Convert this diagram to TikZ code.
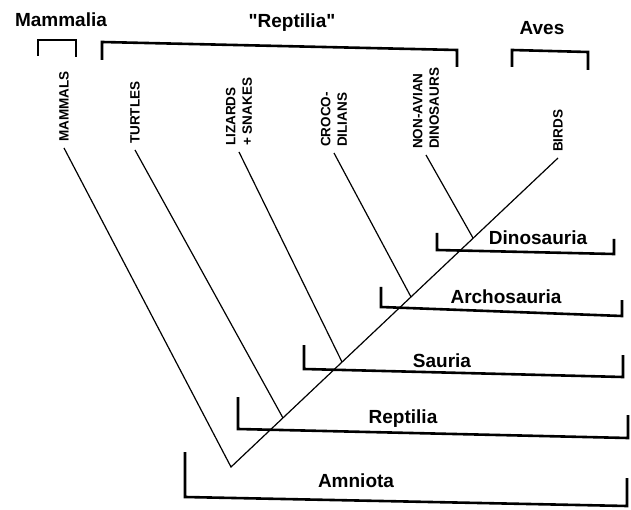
\documentclass[tikz,border=0pt]{standalone}
\usepackage{fontspec}
\setmainfont{Liberation Sans}
\begin{document}
\begin{tikzpicture}[x=1pt, y=-1pt,
    branch/.style={line width=1.2pt},
    bracket/.style={line width=2.6pt},
    clade/.style={font=\fontsize{19}{22}\selectfont\bfseries, anchor=base, inner sep=0pt},
    leaf/.style={font=\fontsize{13.5}{16.5}\selectfont\bfseries, rotate=90, anchor=west, align=left, inner xsep=6pt, inner ysep=0pt}]
    \useasboundingbox (0,0) rectangle (631,510);

    % Root and nodes along the main stem
    \coordinate (root) at (231,467);
    \coordinate (jTurtles) at (283,418);
    \coordinate (jSquamates) at (342,362);
    \coordinate (jCrocs) at (411,297);
    \coordinate (jDinos) at (473,238);

    % Terminal taxa
    \node[leaf] (mammals) at (64,148) {MAMMALS};
    \node[leaf] (turtles) at (135,150) {TURTLES};
    \node[leaf] (squamates) at (239,152) {LIZARDS\\+ SNAKES};
    \node[leaf] (crocs) at (334,153) {CROCO-\\DILIANS};
    \node[leaf] (nonavian) at (426,155) {NON-AVIAN\\DINOSAURS};
    \node[leaf] (birds) at (558,158) {BIRDS};

    % Branches
    \draw[branch] (mammals.west) -- (root) -- (birds.west);
    \draw[branch] (turtles.west) -- (jTurtles);
    \draw[branch] (squamates.west) -- (jSquamates);
    \draw[branch] (crocs.west) -- (jCrocs);
    \draw[branch] (nonavian.west) -- (jDinos);

    % Traditional groups (top)
    \node[clade] (mammalia) at (61,27) {Mammalia};
    \node[clade] (reptiliaQ) at (292,28) {\textquotedbl Reptilia\textquotedbl};
    \node[clade] (aves) at (542,35) {Aves};
    \draw[bracket] (38,56) -- (38,40) -- (76,40) -- (76,57);
    \draw[bracket] (102,60) -- (102,42) -- (457,50) -- (457,67);
    \draw[bracket] (512,67) -- (512,50) -- (588,52) -- (588,70);

    % Clades (bottom)
    \node[clade] (dinosauria) at (538,245) {Dinosauria};
    \node[clade] (archosauria) at (506,304) {Archosauria};
    \node[clade] (sauria) at (442,367) {Sauria};
    \node[clade] (reptilia) at (403,423) {Reptilia};
    \node[clade] (amniota) at (356,487) {Amniota};
    \draw[bracket] (437,233) -- (437,250) -- (614,254) -- (614,239);
    \draw[bracket] (381,287) -- (381,307) -- (622,316) -- (622,300);
    \draw[bracket] (304,345) -- (304,369) -- (623,377) -- (623,355);
    \draw[bracket] (238,397) -- (238,429) -- (628,438) -- (628,415);
    \draw[bracket] (185,452) -- (185,497) -- (627,506) -- (627,478);
\end{tikzpicture}
\end{document}
